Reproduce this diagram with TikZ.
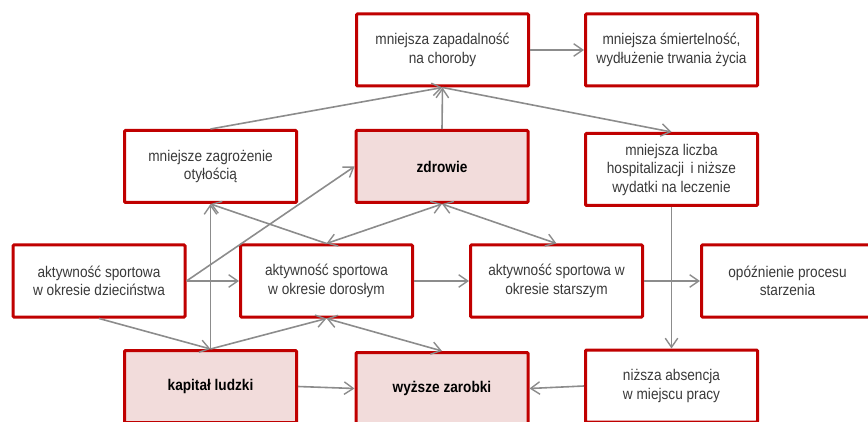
\documentclass[tikz,border=0pt]{standalone}
\usepackage{fontspec}
\setmainfont[FakeStretch=0.88]{Liberation Sans}
\usetikzlibrary{arrows.meta}
\definecolor{boxred}{HTML}{C00000}
\definecolor{boxpink}{HTML}{F2DCDB}
\definecolor{linegray}{HTML}{8C8C8C}
\definecolor{txtgray}{HTML}{3A3A3A}
\begin{document}
\begin{tikzpicture}[x=1pt,y=-1pt,
  boxnode/.style={draw=boxred, line width=3pt, rounded corners=1pt, fill=white,
    minimum width=172pt, minimum height=72pt, align=center, inner sep=2pt,
    text=txtgray, font=\fontsize{15.5}{18.5}\selectfont},
  pinkbox/.style={boxnode, fill=boxpink, text=black, font=\fontsize{15.5}{18.5}\selectfont\bfseries},
  barb/.tip={Straight Barb[length=3.2mm,width=4.4mm,line width=1.4pt]},
  conn/.style={draw=linegray, line width=1.6pt, -barb},
  bconn/.style={conn, barb-barb}
]
\useasboundingbox (0,0) rectangle (868,422);
\clip (0,0) rectangle (868,422);

\node[boxnode] (b1) at (442.5,50) {mniejsza zapadalność\\na choroby};
\node[boxnode] (b2) at (671.5,50) {mniejsza śmiertelność,\\wydłużenie trwania życia};
\node[boxnode] (b3) at (210.5,166.5) {mniejsze zagrożenie\\otyłością};
\node[pinkbox] (b4) at (442,166.5) {zdrowie};
\node[boxnode] (b5) at (671.5,169.5) {mniejsza liczba\\hospitalizacji\, i niższe\\wydatki na leczenie};
\node[boxnode] (b6) at (99,281) {aktywność sportowa\\w okresie dzieciństwa};
\node[boxnode] (b7) at (326.5,281) {aktywność sportowa\\w okresie dorosłym};
\node[boxnode] (b8) at (556.5,281) {aktywność sportowa w\\okresie starszym};
\node[boxnode] (b9) at (787.5,281) {opóźnienie procesu\\starzenia};
\node[pinkbox] (b10) at (210.5,386.5) {kapitał ludzki};
\node[pinkbox] (b11) at (442,388.5) {wyższe zarobki};
\node[boxnode] (b12) at (671.5,386) {niższa absencja\\w miejscu pracy};

\draw[conn] (b3.north) -- (b1.south);
\draw[conn] (b4.north) -- (b1.south);
\draw[conn] (b1.south) -- (b5.north);
\draw[conn] (b1.east) -- (b2.west);
\draw[conn] (b5.south) -- (b12.north);
\draw[conn] (b8.east) -- (b9.west);
\draw[conn] (b7.east) -- (b8.west);
\draw[conn] (b6.east) -- (b7.west);
\draw[conn] (b6.east) -- (b4.west);
\draw[conn] (b6.south) -- (b10.north);
\draw[conn] (b10.north) -- (b3.south);
\draw[conn] (b10.north) -- (b7.south);
\draw[conn] (b7.north) -- (b3.south);
\draw[bconn] (b4.south) -- (b7.north);
\draw[bconn] (b4.south) -- (b8.north);
\draw[bconn] (b7.south) -- (b11.north);
\draw[conn] (b10.east) -- (b11.west);
\draw[conn] (b12.west) -- (b11.east);
\end{tikzpicture}
\end{document}
